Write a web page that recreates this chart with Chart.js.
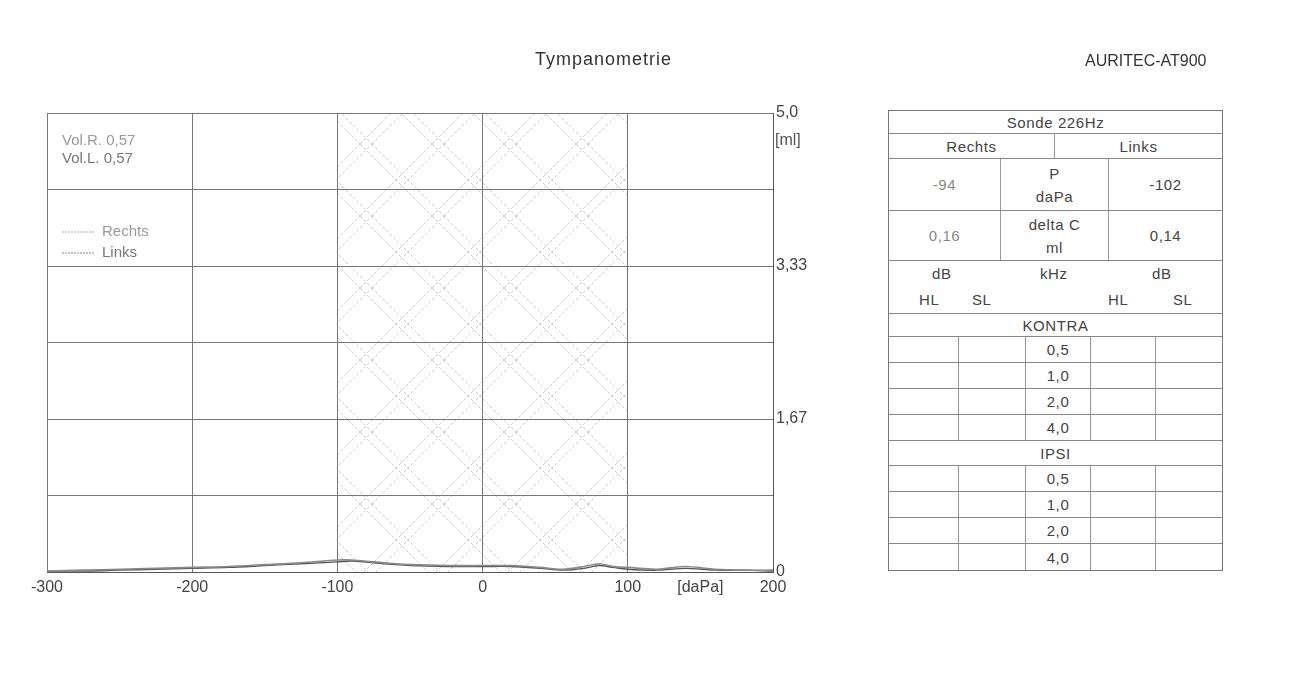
<!DOCTYPE html>
<html lang="de">
<head>
    <meta charset="UTF-8">
    <title>Tympanometrie</title>
    <style>
        body { margin: 0; background: #fff; font-family: "Liberation Sans", Arial, sans-serif; color: #444; }
        .page { position: relative; width: 1303px; height: 675px; }
        .chart-box { position: absolute; left: 0; top: 0; width: 860px; height: 620px; }
        .title { position: absolute; top: 49px; font-size: 18px; letter-spacing: 1px; color: #333; }
        #tab { position: absolute; left: 888px; top: 110px; width: 333px; border: 1px solid #777; font-size: 15px; letter-spacing: 0.6px; }
        .row { display: flex; border-bottom: 1px solid #888; position: relative; box-sizing: border-box; }
        .row:last-child { border-bottom: none; }
        .row div { display: flex; align-items: center; justify-content: center; text-align: center; line-height: 23px; border-right: 1px solid #999; box-sizing: border-box; }
        .row div:last-child { border-right: none; }
        .row span { position: absolute; top: 4px; }
        .light { color: #888; }
    </style>
</head>
<body>
<div class="page">
    <div class="chart-box"><canvas id="tymp"></canvas></div>
    <div class="title" style="left:535px">Tympanometrie</div>
    <div class="title" style="left:1085px; top:52px; font-size:16px; letter-spacing:0">AURITEC-AT900</div>
    <div id="tab"></div>
</div>

<script src="https://cdn.jsdelivr.net/npm/chart.js"></script>
<script>
    // Druck in daPa und Compliance in ml
    const pressure = [-300, -275, -250, -225, -200, -175, -150, -125, -100, -90, -75, -60, -50, -25, 0, 20, 40, 55, 70, 80, 90, 100, 120, 140, 160, 180, 200];
    const rechts   = [0.01, 0.02, 0.03, 0.04, 0.05, 0.06, 0.08, 0.10, 0.13, 0.13, 0.11, 0.09, 0.08, 0.07, 0.07, 0.07, 0.05, 0.03, 0.06, 0.09, 0.06, 0.05, 0.03, 0.06, 0.03, 0.02, 0.02];
    const links    = [0.01, 0.01, 0.02, 0.03, 0.04, 0.05, 0.07, 0.09, 0.11, 0.12, 0.10, 0.08, 0.07, 0.06, 0.06, 0.06, 0.04, 0.02, 0.04, 0.07, 0.05, 0.03, 0.02, 0.04, 0.02, 0.02, 0.01];
    const normBereich = [-100, 100];
    const normMax = 5;

    const xTicks = [-300, -200, -100, 0, 100, 150, 200];
    const xLabels = ['-300', '-200', '-100', '0', '100', '[daPa]', '200'];
    const yTicks = [0, 5 / 6, 10 / 6, 15 / 6, 20 / 6, 25 / 6, 5];
    const yLabels = ['0', '', '1,67', '', '3,33', '', '5,0'];

    const volR = '0,57', volL = '0,57';

    // Tabelle rechts
    const pRechts = '-94', pLinks = '-102';
    const dcRechts = '0,16', dcLinks = '0,14';
    const freqs = ['0,5', '1,0', '2,0', '4,0'];

    function freqRows() {
        return freqs.map(f => '<div class="row" style="height:26px"><div style="width:70px"></div><div style="width:67px"></div><div style="width:65px">' + f + '</div><div style="width:65px"></div><div style="width:66px"></div></div>').join('');
    }
    document.getElementById('tab').innerHTML =
        '<div class="row" style="height:23px"><div style="width:100%">Sonde 226Hz</div></div>' +
        '<div class="row" style="height:25px"><div style="width:166px">Rechts</div><div style="width:167px">Links</div></div>' +
        '<div class="row" style="height:52px"><div class="light" style="width:112px">' + pRechts + '</div><div style="width:108px">P<br>daPa</div><div style="width:113px">' + pLinks + '</div></div>' +
        '<div class="row" style="height:50px"><div class="light" style="width:112px">' + dcRechts + '</div><div style="width:108px">delta C<br>ml</div><div style="width:113px">' + dcLinks + '</div></div>' +
        '<div class="row" style="height:28px;border-bottom:none"><span style="left:43px">dB</span><span style="left:151px">kHz</span><span style="left:263px">dB</span></div>' +
        '<div class="row" style="height:25px"><span style="left:30px;top:2px">HL</span><span style="left:83px;top:2px">SL</span><span style="left:219px;top:2px">HL</span><span style="left:284px;top:2px">SL</span></div>' +
        '<div class="row" style="height:23px"><div style="width:100%">KONTRA</div></div>' + freqRows() +
        '<div class="row" style="height:25px"><div style="width:100%">IPSI</div></div>' + freqRows();

    // Schraffur fuer den Normbereich
    function hatch() {
        const w = 72;
        const c = document.createElement('canvas');
        c.width = w; c.height = w;
        const g = c.getContext('2d');
        g.strokeStyle = 'rgba(120,120,120,0.5)';
        g.lineWidth = 0.8;
        g.setLineDash([3, 2]);
        for (const o of [0, 12]) {
            for (const k of [-w, 0, w]) {
                g.beginPath(); g.moveTo(k + o, 0); g.lineTo(k + o + w, w); g.stroke();
                g.beginPath(); g.moveTo(k + o, w); g.lineTo(k + o + w, 0); g.stroke();
            }
        }
        return g.createPattern(c, 'repeat');
    }

    const beschriftung = {
        id: 'beschriftung',
        afterDraw(chart) {
            const a = chart.chartArea, ctx = chart.ctx;
            ctx.save();
            ctx.font = '15px "Liberation Sans", Arial';
            ctx.textBaseline = 'middle';
            ctx.fillStyle = '#999';
            ctx.fillText('Vol.R. ' + volR, a.left + 15, a.top + 28);
            ctx.fillStyle = '#777';
            ctx.fillText('Vol.L. ' + volL, a.left + 15, a.top + 46);
            ctx.fillStyle = '#999';
            ctx.fillText('Rechts', a.left + 55, a.top + 119);
            ctx.fillStyle = '#777';
            ctx.fillText('Links', a.left + 55, a.top + 140);
            ctx.lineWidth = 1;
            ctx.setLineDash([2, 1]);
            ctx.strokeStyle = '#aaa';
            ctx.beginPath(); ctx.moveTo(a.left + 15, a.top + 119); ctx.lineTo(a.left + 47, a.top + 119); ctx.stroke();
            ctx.strokeStyle = '#888';
            ctx.beginPath(); ctx.moveTo(a.left + 15, a.top + 140); ctx.lineTo(a.left + 47, a.top + 140); ctx.stroke();
            ctx.fillStyle = '#555';
            ctx.font = '16px "Liberation Sans", Arial';
            ctx.fillText('[ml]', a.right + 2, a.top + 28);
            ctx.restore();
        }
    };

    new Chart(document.getElementById('tymp'), {
        type: 'line',
        data: {
            datasets: [
                { label: 'Norm', data: normBereich.map(x => ({ x: x, y: normMax })), fill: 'origin', backgroundColor: hatch(), borderWidth: 0, pointRadius: 0 },
                { label: 'Rechts', data: pressure.map((x, i) => ({ x: x, y: rechts[i] })), borderColor: '#8a8a8a', borderWidth: 1.6, pointRadius: 0, tension: 0.3, fill: false },
                { label: 'Links', data: pressure.map((x, i) => ({ x: x, y: links[i] })), borderColor: '#555', borderWidth: 1.4, pointRadius: 0, tension: 0.3, fill: false }
            ]
        },
        options: {
            responsive: true,
            maintainAspectRatio: false,
            animation: false,
            layout: { autoPadding: false, padding: { left: 47, top: 113, right: 37, bottom: 23 } },
            plugins: { legend: { display: false }, tooltip: { enabled: false } },
            scales: {
                x: {
                    type: 'linear', min: -300, max: 200,
                    afterBuildTicks: s => { s.ticks = xTicks.map(v => ({ value: v })); },
                    afterFit: s => { s.height = 25; },
                    ticks: { autoSkip: false, maxRotation: 0, padding: 6, color: '#444', font: { size: 16, family: '"Liberation Sans", Arial' },
                             callback: (v, i) => xLabels[i] },
                    grid: { drawTicks: false, color: c => (c.tick && c.tick.value === 150) ? 'rgba(0,0,0,0)' : '#777' },
                    border: { color: '#555' }
                },
                y: {
                    position: 'right', min: 0, max: 5,
                    afterBuildTicks: s => { s.ticks = yTicks.map(v => ({ value: v })); },
                    afterFit: s => { s.width = 50; },
                    ticks: { autoSkip: false, padding: 3, color: '#444', font: { size: 16, family: '"Liberation Sans", Arial' },
                             callback: (v, i) => yLabels[i] },
                    grid: { drawTicks: false, color: '#777' },
                    border: { color: '#555' }
                }
            }
        },
        plugins: [beschriftung]
    });
</script>
</body>
</html>
